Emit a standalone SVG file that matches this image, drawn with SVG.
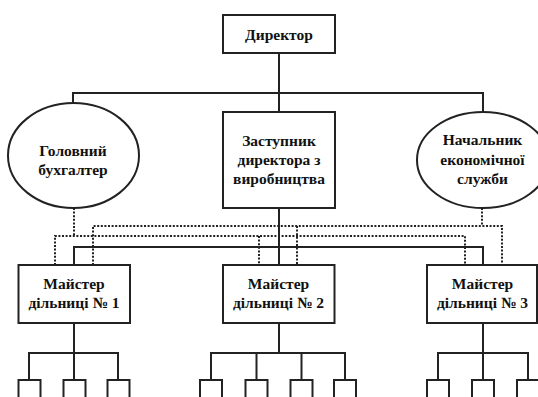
<svg xmlns="http://www.w3.org/2000/svg" width="538" height="397" viewBox="0 0 538 397">
<style>
.box{fill:#fff;stroke:#222;stroke-width:2}
.ln{fill:none;stroke:#222;stroke-width:2}
.dt{fill:none;stroke:#222;stroke-width:2;stroke-dasharray:2 1.6}
</style>
<rect width="538" height="397" fill="#fff"/>
<g id="connectors">
<path class="ln" d="M279,53V112M73,103V93H483V112"/>
<path class="ln" d="M279,208V265M74,265V247H483V265"/>
<path class="dt" d="M74,208V236M55,265V236H465V265M259,236V265"/>
<path class="dt" d="M482,208V226M93,265V226H502V265M297,226V265"/>
<path class="ln" d="M74,323V353M29,380V353H118V380M74,353V380"/>
<path class="ln" d="M279,323V353M211,380V353H345V380M256.5,353V380M301.5,353V380"/>
<path class="ln" d="M483,323V353M438,380V353H528V380M483,353V380"/>
</g>
<g font-family="Liberation Serif" font-weight="bold" font-size="15.5" fill="#111" text-anchor="middle">
<g id="director"><rect class="box" x="223" y="15" width="112" height="38"/><text x="279" y="40">Директор</text></g>
<g id="chief_accountant"><ellipse class="box" cx="73.5" cy="155.5" rx="65.5" ry="52.5"/><text x="73" y="156">Головний</text><text x="73" y="175">бухгалтер</text></g>
<g id="deputy"><rect class="box" x="223" y="112" width="112" height="96"/><text x="279" y="146">Заступник</text><text x="279" y="165">директора з</text><text x="279" y="184">виробництва</text></g>
<g id="economic_head"><ellipse class="box" cx="483" cy="160" rx="66" ry="48"/><text x="482.5" y="145">Начальник</text><text x="482.5" y="165">економічної</text><text x="482.5" y="184">служби</text></g>
<g id="master1"><rect class="box" x="18.5" y="265" width="111.5" height="58"/><text x="74" y="288.5">Майстер</text><text x="74" y="307.5">дільниці № 1</text></g>
<g id="master2"><rect class="box" x="223" y="265" width="111.5" height="58"/><text x="278.5" y="288.5">Майстер</text><text x="278.5" y="307.5">дільниці № 2</text></g>
<g id="master3"><rect class="box" x="427" y="265" width="110" height="58"/><text x="482.5" y="288.5">Майстер</text><text x="482.5" y="307.5">дільниці № 3</text></g>
<g id="workers1"><rect class="box" x="18.5" y="380" width="22" height="22"/><rect class="box" x="63.5" y="380" width="22" height="22"/><rect class="box" x="107.5" y="380" width="22" height="22"/></g>
<g id="workers2"><rect class="box" x="200" y="380" width="22" height="22"/><rect class="box" x="245.5" y="380" width="22" height="22"/><rect class="box" x="290.5" y="380" width="22" height="22"/><rect class="box" x="334" y="380" width="22" height="22"/></g>
<g id="workers3"><rect class="box" x="427" y="380" width="22" height="22"/><rect class="box" x="472" y="380" width="22" height="22"/><rect class="box" x="517" y="380" width="22" height="22"/></g>
</g>
</svg>
